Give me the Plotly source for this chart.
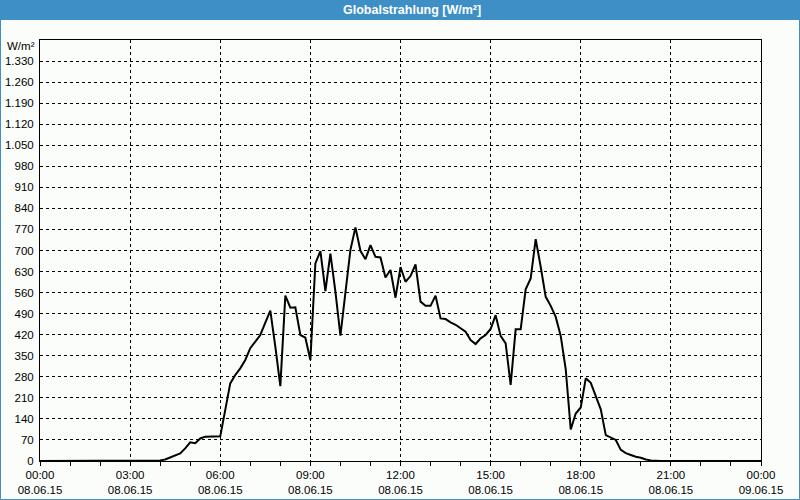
import pandas as pd
import plotly.graph_objects as go

# 10-minute values of global radiation, 08.06.15 00:00 .. 09.06.15 00:00
times = pd.date_range("2015-06-08 00:00", periods=145, freq="10min")
values = (
    [0] * 24 +
    [2, 5, 12, 18, 25, 42, 62, 59, 75, 81, 81, 81, 82, 170, 258, 286,
     308, 336, 375, 397, 419, 460, 500, 380, 249, 550, 510, 511, 419, 410,
     336, 657, 698, 565, 690, 563, 417, 560, 702, 777, 699, 671, 718, 679,
     677, 610, 635, 543, 645, 596, 615, 654, 530, 516, 516, 550, 474, 472,
     461, 453, 440, 430, 402, 389, 408, 419, 439, 485, 416, 391, 253, 438,
     438, 571, 607, 738, 646, 546, 516, 479, 416, 305, 105, 158, 178, 275,
     260, 219, 172, 86, 79, 70, 37, 26, 20, 14, 11, 5, 2] +
    [0] * 22
)

y_tickvals = [0, 70, 140, 210, 280, 350, 420, 490, 560, 630, 700, 770, 840, 910,
              980, 1050, 1120, 1190, 1260, 1330, 1400]
y_ticktext = ["0", "70", "140", "210", "280", "350", "420", "490", "560", "630",
              "700", "770", "840", "910", "980", "1.050", "1.120", "1.190",
              "1.260", "1.330", ""]
unit_label = "W/m²"
x_tickvals = ["2015-06-08 00:00", "2015-06-08 03:00", "2015-06-08 06:00",
              "2015-06-08 09:00", "2015-06-08 12:00", "2015-06-08 15:00",
              "2015-06-08 18:00", "2015-06-08 21:00", "2015-06-09 00:00"]
x_ticktext = ["00:00<br>08.06.15", "03:00<br>08.06.15", "06:00<br>08.06.15",
              "09:00<br>08.06.15", "12:00<br>08.06.15", "15:00<br>08.06.15",
              "18:00<br>08.06.15", "21:00<br>08.06.15", "00:00<br>09.06.15"]
title_text = "Globalstrahlung [W/m²]"

W, H = 800, 500
L, R, T, B = 40, 39, 40, 39
pw, ph = W - L - R, H - T - B

def px_x(p):
    return (p - L) / pw

def px_y(p):
    return (H - B - p) / ph

fig = go.Figure()
fig.add_trace(go.Scatter(x=times, y=values, mode="lines",
                         line=dict(color="#000000", width=2),
                         hoverinfo="skip", showlegend=False))

bg = "#fbfdfb"
fnt = "Liberation Sans, DejaVu Sans, sans-serif"
fig.update_layout(
    width=W, height=H,
    margin=dict(l=L, r=R, t=T, b=B, pad=0, autoexpand=False),
    paper_bgcolor=bg, plot_bgcolor=bg,
    font=dict(family=fnt, size=11.5, color="#000000"),
    showlegend=False,
    shapes=[
        dict(type="rect", xref="paper", yref="paper", layer="below",
             x0=px_x(0), x1=px_x(800), y0=px_y(0), y1=px_y(20),
             fillcolor="#3d8fc6", line=dict(width=0)),
        dict(type="rect", xref="paper", yref="paper", layer="above",
             x0=px_x(0.5), x1=px_x(799.5), y0=px_y(0.5), y1=px_y(499.5),
             fillcolor="rgba(0,0,0,0)", line=dict(color="#3d8fc6", width=1)),
    ],
    annotations=[
        dict(text="<b>" + title_text + "</b>", xref="paper", yref="paper",
             x=px_x(412), y=px_y(10), xanchor="center", yanchor="middle",
             showarrow=False, font=dict(color="#ffffff", size=12.5, family=fnt)),
        dict(text=unit_label, xref="paper", yref="paper",
             x=px_x(37), y=px_y(46), xanchor="right", yanchor="middle",
             showarrow=False, xshift=0, font=dict(size=11.5, family=fnt)),
    ],
)

fig.update_xaxes(
    type="date", automargin=False,
    range=["2015-06-08 00:00", "2015-06-09 00:00"],
    tickmode="array", tickvals=x_tickvals, ticktext=x_ticktext,
    ticks="", ticklabelstandoff=3,
    minor=dict(dtick=3600000, tick0="2015-06-08 00:00", ticks="outside",
               ticklen=4, tickcolor="#000000", showgrid=False),
    showgrid=True, gridcolor="#000000", gridwidth=1, griddash="3px,3px",
    showline=True, linecolor="#000000", linewidth=1, mirror=True,
    zeroline=False, fixedrange=True,
)
fig.update_yaxes(
    automargin=False,
    range=[0, 1400],
    tickmode="array", tickvals=y_tickvals, ticktext=y_ticktext,
    ticks="", ticklabelstandoff=3,
    showgrid=True, gridcolor="#000000", gridwidth=1, griddash="3px,3px",
    showline=True, linecolor="#000000", linewidth=1, mirror=True,
    zeroline=False, fixedrange=True,
)

fig.write_html("out.html")
